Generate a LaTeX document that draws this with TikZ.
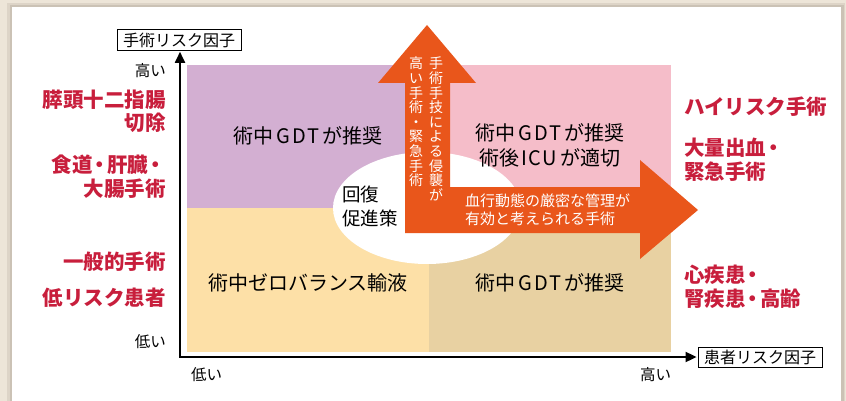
\documentclass[tikz,border=0pt]{standalone}
\usepackage{fontspec}
\setmainfont{Noto Sans CJK JP}
\usetikzlibrary{arrows.meta,shapes.geometric}
\definecolor{bgbeige}{HTML}{EDE5D8}
\definecolor{shadowa}{HTML}{DDD4C7}
\definecolor{shadowb}{HTML}{CBC2B5}
\definecolor{qpurple}{HTML}{D3AFD2}
\definecolor{qpink}{HTML}{F5BDC9}
\definecolor{qyellow}{HTML}{FDE0A7}
\definecolor{qtan}{HTML}{E8D1A2}
\definecolor{orangearrow}{HTML}{E9561B}
\definecolor{redtext}{HTML}{C81E3C}
\newcommand{\ndot}{\kern-3pt・\kern-3pt}
\tikzset{
  axisline/.style={line width=1.8pt, -{Triangle[width=10pt,length=11pt]}, shorten >=1pt},
  axisbox/.style={draw=black, line width=0.8pt, fill=white, inner xsep=6pt, inner ysep=3pt,
    font=\fontsize{16}{18}\selectfont},
  ticklabel/.style={font=\fontsize{15.5}{18}\selectfont, inner sep=0pt},
  quadtext/.style={font=\fontsize{20}{25}\selectfont, inner sep=0pt, align=center},
  redlabel/.style={font=\bfseries\fontsize{20.5}{23.5}\selectfont, text=redtext, inner sep=0pt},
  vtext/.style={font=\fontsize{14}{14.6}\selectfont, text=white, inner sep=0pt, align=center, anchor=north},
  armtext/.style={font=\fontsize{15}{18.5}\selectfont, text=white, inner sep=0pt, align=left, anchor=west},
}
\begin{document}
\begin{tikzpicture}[x=1pt,y=-1pt]
\useasboundingbox (0,0) rectangle (846,401);
% background frame
\fill[bgbeige] (0,0) rectangle (846,401);
\fill[shadowa] (7,3) rectangle (845,401);
\fill[shadowb] (10,5) rectangle (843.5,401);
\fill[white] (12,7) rectangle (841,401);
% quadrants
\fill[qpurple] (187,65) rectangle (429,208);
\fill[qpink] (429,65) rectangle (671,208);
\fill[qyellow] (187,208) rectangle (429,352);
\fill[qtan] (429,208) rectangle (671,352);
% ellipse
\node[ellipse, fill=white, minimum width=188pt, minimum height=112pt, inner sep=0pt] (ell) at (427,208) {};
% L arrow
\fill[orangearrow] (405,233) -- (640,233) -- (640,259) -- (698,210) -- (640,160) -- (640,187)
  -- (450,187) -- (450,83) -- (476,83) -- (427,25) -- (378,83) -- (405,83) -- cycle;
% axes
\node[axisbox] (ylab) at (179,40) {手術リスク因子};
\node[axisbox] (xlab) at (760,357.5) {患者リスク因子};
\coordinate (O) at (180,357);
\draw[axisline] (O) -- (ylab.south -| O);
\draw[axisline] ([xshift=-0.9pt]O) -- (xlab.west |- O);
% tick labels
\node[ticklabel, anchor=east] (yhigh) at (166,71) {高い};
\node[ticklabel, anchor=east] (ylow) at (166,342) {低い};
\node[ticklabel, anchor=west] (xlow) at (191,375) {低い};
\node[ticklabel, anchor=west] (xhigh) at (640,375) {高い};
% quadrant texts
\node[quadtext] (q1) at (308,136) {術中\hspace{3pt}G\hspace{2pt}D\hspace{2pt}T\hspace{3pt}が推奨};
\node[quadtext] (q2) at (550,145) {術中\hspace{3pt}G\hspace{2pt}D\hspace{2pt}T\hspace{3pt}が推奨\\術後\hspace{2pt}I\hspace{1pt}C\hspace{1pt}U\hspace{3pt}が適切};
\node[quadtext] (q3) at (308,283) {術中ゼロバランス輸液};
\node[quadtext] (q4) at (550,283) {術中\hspace{3pt}G\hspace{2pt}D\hspace{2pt}T\hspace{3pt}が推奨};
\node[quadtext, align=left, anchor=west, font=\fontsize{18.5}{24}\selectfont] (rec) at (342,206) {回復\\促進策};
% arrow texts
\node[vtext] (v1) at (436,57) {手\\術\\手\\技\\に\\よ\\る\\侵\\襲\\が};
\node[vtext] (v2) at (416,57) {高\\い\\手\\術\\・\\緊\\急\\手\\術};
\node[armtext] (arm) at (465,210) {血行動態の厳密な管理が\\有効と考えられる手術};
% red labels left
\node[redlabel, anchor=east, align=right] (l1) at (166,111.5) {膵頭十二指腸\\切除};
\node[redlabel, anchor=east, align=right] (l2) at (166,176.5) {食道\ndot 肝臓\kern-3pt・\\大腸手術};
\node[redlabel, anchor=east] (l3) at (166,262) {一般的手術};
\node[redlabel, anchor=east] (l4) at (166,298) {低リスク患者};
% red labels right
\node[redlabel, anchor=west] (r1) at (684,107) {ハイリスク手術};
\node[redlabel, anchor=west, align=left] (r2) at (684,159.5) {大量出血\kern-3pt・\\緊急手術};
\node[redlabel, anchor=west, align=left] (r3) at (684,286.5) {心疾患\kern-3pt・\\腎疾患\ndot 高齢};
\end{tikzpicture}
\end{document}
